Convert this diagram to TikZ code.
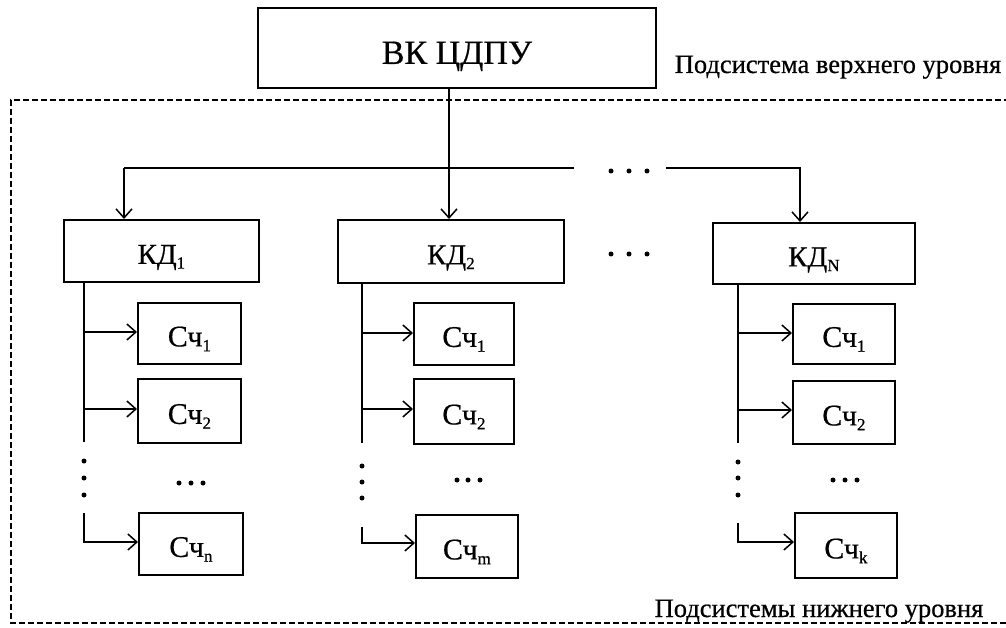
\documentclass[tikz,border=0pt]{standalone}
\usepackage{fontspec}
\setmainfont{Liberation Serif}[FakeBold=0.6]
\usetikzlibrary{arrows.meta}
\newcommand{\sbs}[1]{\raisebox{-0.35ex}{\fontsize{17}{18}\selectfont #1}}
\tikzset{
  box/.style={draw, line width=1.8pt, inner sep=0pt, anchor=north west},
  kdtext/.style={font=\fontsize{29}{32}\selectfont, anchor=base, yshift=-13pt},
  chtext/.style={font=\fontsize{30}{33}\selectfont, anchor=base, yshift=-13pt},
  conn/.style={line width=1.6pt},
  arr/.style={conn, -{Straight Barb[length=9pt,width=16pt,line width=1.5pt]}},
  dot/.style={circle, fill=black, inner sep=0pt, minimum size=5pt},
  frame/.style={line width=1.5pt, dash pattern=on 6pt off 3pt},
  lbl/.style={font=\fontsize{26.5}{29}\selectfont, anchor=base}
}
\begin{document}
\begin{tikzpicture}[x=1pt,y=-1pt]
\useasboundingbox (0,0) rectangle (1006,628);
% frame
\draw[frame] (1010,100) -- (11,100) -- (11,623) -- (1010,623);
% top
\node[box, minimum width=398pt, minimum height=80pt] (top) at (257,7) {};
\node[font=\fontsize{34}{38}\selectfont, anchor=base, yshift=-16pt] (toptext) at (top.center) {ВК ЦДПУ};
\node[lbl] (upper) at (838,73) {Подсистема верхнего уровня};
\node[lbl] (lower) at (819,617) {Подсистемы нижнего уровня};
% KD boxes
\node[box, minimum width=195pt, minimum height=62pt] (kd1) at (63,219) {};
\node[kdtext] at (kd1.center) {КД\sbs{1}};
\node[box, minimum width=226pt, minimum height=63pt] (kd2) at (337,219) {};
\node[kdtext] at (kd2.center) {КД\sbs{2}};
\node[box, minimum width=202pt, minimum height=61pt] (kdN) at (712,222) {};
\node[kdtext] at (kdN.center) {КД\sbs{N}};
% bus
\coordinate (b0) at (449,87);
\coordinate (b1) at (124,168);
\coordinate (b2) at (449,168);
\coordinate (b3) at (574,168);
\coordinate (b4) at (666,168);
\coordinate (b5) at (800,168);
\draw[conn] (b0) -- (b2);
\draw[conn] (b1) -- (b3);
\draw[arr] (b1) -- (b1 |- kd1.north);
\draw[arr] (b2) -- (b2 |- kd2.north);
\draw[arr] (b4) -- (b5) -- (b5 |- kdN.north);
\node[dot] (bd1) at (611,171) {};
\node[dot] (bd2) at (629,171) {};
\node[dot] (bd3) at (647,171) {};
\node[dot] (md1) at (611,254) {};
\node[dot] (md2) at (629,254) {};
\node[dot] (md3) at (647,254) {};
% column 1
\node[box, minimum width=103pt, minimum height=61pt] (c11) at (137,302) {};
\node[chtext] at (c11.center) {Сч\sbs{1}};
\node[box, minimum width=103pt, minimum height=64pt] (c12) at (137,378) {};
\node[chtext] at (c12.center) {Сч\sbs{2}};
\node[box, minimum width=104pt, minimum height=62pt] (c1n) at (138,512) {};
\node[chtext] at (c1n.center) {Сч\sbs{n}};
\coordinate (v1a) at (84,281);
\coordinate (v1b) at (84,442);
\coordinate (v1c) at (84,513);
\draw[conn] (v1a) -- (v1b);
\draw[arr] (84,332) -- (c11.west |- 84,332);
\draw[arr] (84,409) -- (c12.west |- 84,409);
\draw[arr] (v1c) |- (c1n.west |- 84,542);
\node[dot] at (84,461) {};
\node[dot] at (84,478) {};
\node[dot] at (84,495) {};
\node[dot] at (179,483) {};
\node[dot] at (191,483) {};
\node[dot] at (203,483) {};
% column 2
\node[box, minimum width=100pt, minimum height=62pt] (c21) at (413,302) {};
\node[chtext] at (c21.center) {Сч\sbs{1}};
\node[box, minimum width=100pt, minimum height=65pt] (c22) at (413,378) {};
\node[chtext] at (c22.center) {Сч\sbs{2}};
\node[box, minimum width=102pt, minimum height=63pt] (c2m) at (415,514) {};
\node[chtext] at (c2m.center) {Сч\sbs{m}};
\coordinate (v2a) at (362,282);
\coordinate (v2b) at (362,443);
\coordinate (v2c) at (362,527);
\draw[conn] (v2a) -- (v2b);
\draw[arr] (362,333) -- (c21.west |- 362,333);
\draw[arr] (362,409) -- (c22.west |- 362,409);
\draw[arr] (v2c) |- (c2m.west |- 362,543);
\node[dot] at (362,466) {};
\node[dot] at (362,482) {};
\node[dot] at (362,498) {};
\node[dot] at (457,480) {};
\node[dot] at (468,480) {};
\node[dot] at (480,480) {};
% column N
\node[box, minimum width=102pt, minimum height=60pt] (cN1) at (792,303) {};
\node[chtext] at (cN1.center) {Сч\sbs{1}};
\node[box, minimum width=102pt, minimum height=63pt] (cN2) at (792,380) {};
\node[chtext] at (cN2.center) {Сч\sbs{2}};
\node[box, minimum width=102pt, minimum height=65pt] (cNk) at (794,512) {};
\node[chtext] at (cNk.center) {Сч\sbs{k}};
\coordinate (vNa) at (738,283);
\coordinate (vNb) at (738,443);
\coordinate (vNc) at (738,523);
\draw[conn] (vNa) -- (vNb);
\draw[arr] (738,333) -- (cN1.west |- 738,333);
\draw[arr] (738,410) -- (cN2.west |- 738,410);
\draw[arr] (vNc) |- (cNk.west |- 738,542);
\node[dot] at (738,462) {};
\node[dot] at (738,478) {};
\node[dot] at (738,495) {};
\node[dot] at (833,480) {};
\node[dot] at (845,480) {};
\node[dot] at (857,480) {};
\end{tikzpicture}
\end{document}
